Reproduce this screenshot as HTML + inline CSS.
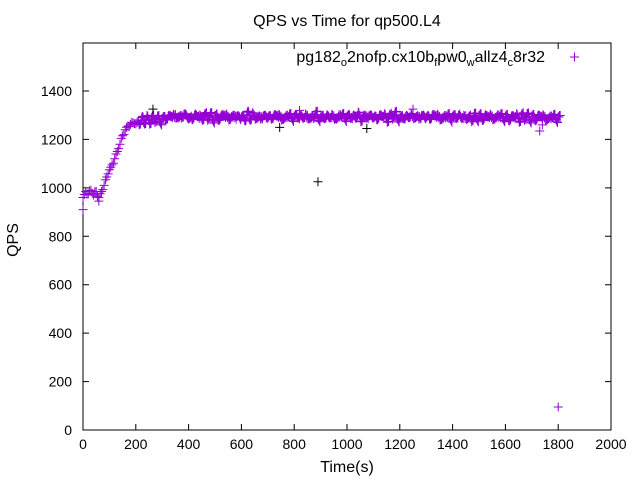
<!DOCTYPE html>
<html><head><meta charset="utf-8"><style>
body{margin:0;background:#fff;}
svg text{font-family:"Liberation Sans",sans-serif;}
</style></head><body>
<svg id="chart" width="640" height="480" xmlns="http://www.w3.org/2000/svg">
<text x="347" y="26" font-size="16" text-anchor="middle">QPS vs Time for qp500.L4</text>
<g id="axes"></g>
<g id="marks"></g>
<g>
<text x="545" y="62" font-size="16" text-anchor="end">pg182<tspan font-size="11" dy="4">o</tspan><tspan dy="-4">2nofp.cx10b</tspan><tspan font-size="11" dy="4">f</tspan><tspan dy="-4">pw0</tspan><tspan font-size="11" dy="4">w</tspan><tspan dy="-4">allz4</tspan><tspan font-size="11" dy="4">c</tspan><tspan dy="-4">8r32</tspan></text>
<path d="M570,57h9M574.5,52.5v9" stroke="#9400d3" stroke-width="1"/>
</g>
<text x="347" y="472" font-size="16" text-anchor="middle">Time(s)</text>
<text transform="translate(18,240) rotate(-90)" font-size="16" text-anchor="middle">QPS</text>
</svg>
<script>
const xTicks=[0,200,400,600,800,1000,1200,1400,1600,1800,2000];
const yTicks=[0,200,400,600,800,1000,1200,1400];
const times=[];for(let t=0;t<=1800;t+=10)times.push(t);
const qps=[960,985,975,990,970,985,960,985,1010,1045,1075,1095,1120,1150,1180,1215,1240,1255,1262,1268,
1265,1275,1280,1270,1285,1278,1290,1280,1285,1275,1288,
1295,1285,1300,1290,1303,1288,1298,1292,1302,1285,1296,1290,1300,1287,1294,1301,1289,1297,1283,1299,
1292,1286,1304,1291,1295,1288,1300,1284,1297,1293,1290,1302,1286,1296,1299,1288,1294,1285,1301,1292,
1298,1287,1303,1290,1295,1284,1300,1293,1289,1297,1302,1286,1294,1291,1299,1285,1296,1303,1288,1292,
1300,1287,1295,1290,1298,1284,1302,1293,1289,1296,1301,1286,1294,1299,1288,1292,1297,1285,1303,1290,
1295,1288,1300,1292,1286,1298,1294,1302,1287,1291,1299,1285,1296,1293,1301,1289,1294,1286,1300,1292,
1297,1288,1303,1290,1295,1284,1299,1293,1287,1296,1301,1289,1294,1286,1298,1291,1283,1295,1288,1300,
1292,1287,1299,1290,1296,1285,1301,1293,1288,1297,1290,1284,1298,1292,1286,1300,1289,1295,1283,1297,
1291,1286,1299,1288,1294,1282,1296,1290,1285,1293,1289];
const outT=[0,60,265,745,820,890,1075,1250,1730,1740,1800];
const outQ=[910,945,1325,1250,1320,1025,1245,1325,1235,1260,95];
const blackIdx=[2,3,5,6];
const NS='http://www.w3.org/2000/svg';
const X0=83,X1=611,Y0=430,Y1=91;
const xs=t=>X0+t*(X1-X0)/2000, ys=v=>Y0-v*(Y0-Y1)/1400;
const ax=document.getElementById('axes'), mk=document.getElementById('marks');
function el(tag,attrs,parent){const e=document.createElementNS(NS,tag);for(const k in attrs)e.setAttribute(k,attrs[k]);parent.appendChild(e);return e;}
const frame=el('rect',{x:X0,y:43,width:X1-X0,height:Y0-43,fill:'none',stroke:'#000','stroke-width':1},ax);


xTicks.forEach(t=>{const x=xs(t);
 const l=el('path',{d:`M${x},${Y0}v-6M${x},43v6`,stroke:'#000'},ax);
 
 
 const tx=el('text',{x:x,y:Y0+19,'font-size':14,'text-anchor':'middle'},ax);tx.textContent=t;
 
 });
yTicks.forEach(v=>{const y=ys(v);
 const l=el('path',{d:`M${X0},${y}h6M${X1},${y}h-6`,stroke:'#000'},ax);
 
 
 const tx=el('text',{x:X0-11,y:y+5,'font-size':14,'text-anchor':'end'},ax);tx.textContent=v;
 
 });
function plus(t,v,c){const x=xs(t),y=ys(v);
 const p=el('path',{d:`M${x-4.5},${y}h9M${x},${y-4.5}v9`,stroke:c,'stroke-width':1},mk);
 
 }
function jit(i){return [0,-12,10,-6,14,-15,6,-10,12,-4][i%10];}
times.forEach((t,i)=>{plus(t,qps[i],'#9400d3');
 if(t>=210){plus(t+2.5,qps[i]+jit(i),'#9400d3');plus(t+5,qps[i]-jit(i+3),'#9400d3');plus(t+7.5,qps[i]+jit(i+6),'#9400d3');}
 else{plus(t+5,(qps[i]+(qps[i+1]||qps[i]))/2+jit(i)/2,'#9400d3');}});
outT.forEach((t,i)=>plus(t,outQ[i],blackIdx.includes(i)?'#000':'#9400d3'));
</script>
</body></html>
